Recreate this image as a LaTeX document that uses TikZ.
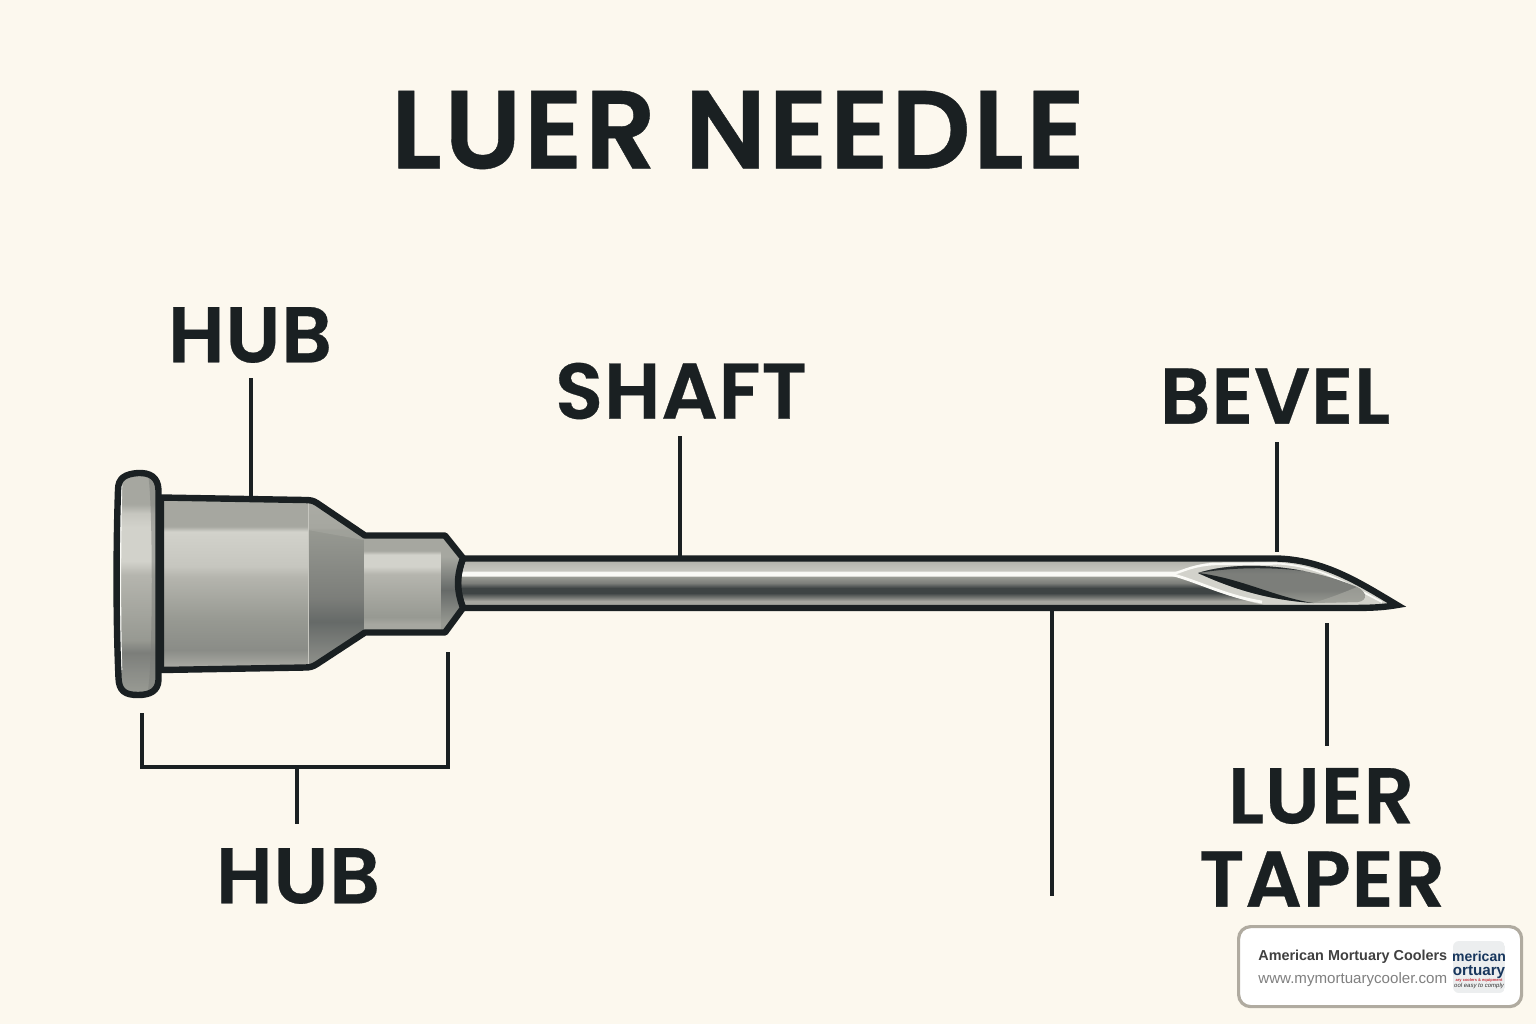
\documentclass[tikz,border=0pt]{standalone}
\usepackage{fontspec}
\setmainfont{Poppins SemiBold}
\newfontfamily\titlefont[LetterSpace=2,FakeBold=0.35]{Poppins SemiBold}
\newfontfamily\labelfont[LetterSpace=1,FakeBold=0.35]{Poppins SemiBold}
\newfontfamily\cardfont{Liberation Sans}
\definecolor{bgc}{HTML}{FCF8EE}
\definecolor{ink}{HTML}{1A2022}
\definecolor{gW}{HTML}{FAFAF6}
\definecolor{gL}{HTML}{D2D2CB}
\definecolor{gMa}{HTML}{C6C6BF}
\definecolor{gMb}{HTML}{B5B5AE}
\definecolor{gMc}{HTML}{A6A7A0}
\definecolor{gMd}{HTML}{979992}
\definecolor{gMe}{HTML}{8A8C87}
\definecolor{gDa}{HTML}{7C7E7A}
\definecolor{gDb}{HTML}{666A68}
\definecolor{gDc}{HTML}{3E4444}
\pgfdeclareverticalshading{bodyshade}{100bp}{color(0bp)=(gMb);color(25bp)=(gMb);color(26.4bp)=(gMc);color(30.8bp)=(gMe);color(39.5bp)=(gMd);color(52bp)=(gMb);color(55bp)=(gMa);color(65bp)=(gL);color(66.5bp)=(gMc);color(75bp)=(gMc);color(100bp)=(gMc)}
\pgfdeclareverticalshading{coneshade}{100bp}{color(0bp)=(gMe);color(28bp)=(gMe);color(39bp)=(gDb);color(46bp)=(gDa);color(65.6bp)=(gMd);color(66bp)=(gMc);color(74bp)=(gMb);color(100bp)=(gMb)}
\pgfdeclareverticalshading{neckshade}{100bp}{color(0bp)=(gMc);color(29.6bp)=(gMc);color(33.2bp)=(gMd);color(55bp)=(gMb);color(59bp)=(gL);color(65bp)=(gL);color(67bp)=(gMc);color(100bp)=(gMc)}
\pgfdeclareverticalshading{collarshade}{100bp}{color(0bp)=(gMd);color(30bp)=(gMd);color(47bp)=(gDb);color(64bp)=(gMc);color(100bp)=(gMc)}
\pgfdeclareverticalshading{flangeshade}{100bp}{color(0bp)=(gMd);color(26.6bp)=(gMd);color(31bp)=(gMe);color(35bp)=(gDa);color(37.7bp)=(gMd);color(52bp)=(gMb);color(55bp)=(gL);color(62.5bp)=(gL);color(65.5bp)=(gMa);color(67.5bp)=(gMc);color(100bp)=(gMc)}
\pgfdeclareverticalshading{shaftshade}{100bp}{color(0bp)=(gMc);color(25bp)=(gMc);color(32bp)=(gMc);color(35bp)=(gDa);color(40bp)=(gDc);color(45bp)=(gDc);color(50bp)=(gDa);color(56bp)=(gMd);color(57.5bp)=(gW);color(61bp)=(gW);color(62.5bp)=(gMa);color(71bp)=(gMb);color(75bp)=(gMd);color(100bp)=(gMd)}
\pgfdeclareverticalshading{windowshade}{100bp}{color(0bp)=(gMd);color(25bp)=(gMd);color(40bp)=(gDa);color(60bp)=(gDa);color(75bp)=(gDb);color(100bp)=(gDb)}
\newcommand{\hubpath}{(161,497.5) -- (305,500) to[out=0,in=147] (317,503) -- (365,535.5) -- (445,535.5) -- (463,558) to[out=250,in=110] (463,608) -- (445,632.5) -- (365,632.5) -- (317,664) to[out=213,in=0] (305,667.5) -- (161,670) -- cycle}
\newcommand{\needlepath}{(463,558.5) -- (1277,558.5) .. controls (1325,560) and (1360,583) .. (1397,605) .. controls (1380,608) and (1365,608) .. (1340,608) -- (463,608) to[out=110,in=250] (463,558.5) -- cycle}
\newcommand{\flangepath}{(118,490) .. controls (118,478) and (125,474) .. (138,473) .. controls (150,472.5) and (158,477) .. (158.5,490) -- (158.5,680) .. controls (158,691) and (150,695) .. (138,695) .. controls (125,695) and (119,691) .. (118.5,678) .. controls (116,620) and (116,550) .. (118,490) -- cycle}
\newcommand{\windowpath}{(1198,573) .. controls (1235,561) and (1300,563) .. (1357,587) .. controls (1367,592) and (1368,600) .. (1358,602) -- (1313,603) .. controls (1270,600) and (1235,590) .. (1198,573) -- cycle}
\tikzset{
  leader/.style={draw=ink,line width=1.9pt},
  outline/.style={draw=ink,line width=3.2pt,line join=round},
  biglabel/.style={font=\labelfont\fontsize{39.5}{39.5}\selectfont,text=ink,inner sep=0pt,anchor=center},
  card/.style={draw=cardedge,fill=white,line width=1.6pt,rounded corners=6pt},
}
\definecolor{cardedge}{HTML}{B0ABA0}
\definecolor{logobg}{HTML}{ECEEEF}
\definecolor{navy}{HTML}{17365D}
\definecolor{logored}{HTML}{C8303A}
\begin{document}
\begin{tikzpicture}[x=0.5pt,y=-0.5pt]
\useasboundingbox (0,0) rectangle (1536,1024);
\fill[bgc] (0,0) rectangle (1536,1024);

\node[text=ink,inner sep=0pt,font=\titlefont\fontsize{55.5}{55.5}\selectfont] (title) at (738,130) {LUER NEEDLE};

% labels
\node[biglabel] (hubA) at (250,335) {HUB};
\node[biglabel] (shaftL) at (681,391) {SHAFT};
\node[biglabel] (bevelL) at (1275,396) {BEVEL};
\node[biglabel] (hubB) at (298,876) {HUB};
\node[biglabel] (luerL) at (1321,796) {LUER};
\node[biglabel] (taperL) at (1322,879) {TAPER};

% connector ends
\coordinate (hubAa) at (251,378);
\coordinate (hubAb) at (251,498);
\coordinate (shaftAa) at (680,436);
\coordinate (shaftAb) at (680,558);
\coordinate (bevelAa) at (1277,442);
\coordinate (bevelAb) at (1277,552);
\coordinate (luerAa) at (1327,623);
\coordinate (luerAb) at (1327,746);
\coordinate (longAa) at (1052,608);
\coordinate (longAb) at (1052,896);
\coordinate (brA) at (142,713);
\coordinate (brB) at (142,767);
\coordinate (brC) at (448,767);
\coordinate (brD) at (448,652);
\coordinate (brM) at (297,767);
\coordinate (brN) at (297,824);

\draw[leader] (hubAa) -- (hubAb);
\draw[leader] (shaftAa) -- (shaftAb);
\draw[leader] (bevelAa) -- (bevelAb);
\draw[leader] (luerAa) -- (luerAb);
\draw[leader] (longAa) -- (longAb);
\draw[leader] (brA) -- (brB) -- (brC) -- (brD);
\draw[leader] (brM) -- (brN);

% needle shaft
\begin{scope}
\clip \needlepath;
\shade[shading=shaftshade] (460,558) rectangle (1410,608);
\fill[gMb] (1290,575) -- (1410,575) -- (1410,608) -- (1290,608) -- cycle;
\fill[gL] (1172,574.5) .. controls (1185,570) and (1195,565) .. (1210,562.5) -- (1277,561) .. controls (1325,563) and (1360,586) .. (1395,606) -- (1270,606) .. controls (1235,600) and (1205,585) .. (1172,574.5) -- cycle;
\end{scope}
\draw[draw=gW,line width=1.2pt] (1172,574.5) .. controls (1185,570) and (1195,565) .. (1215,564) -- (1277,563.5);
\draw[draw=gW,line width=1.4pt] (1172,574.5) .. controls (1200,582) and (1225,596) .. (1262,602);
\draw[draw=gW,line width=0.9pt] (1277,563.5) .. controls (1320,566) and (1345,583) .. (1382,602);
\shade[shading=windowshade] \windowpath;
\begin{scope}
\clip \windowpath;
\fill[gMc,opacity=.7] (1357,587) .. controls (1367,592) and (1368,600) .. (1358,602) -- (1313,603) .. controls (1330,598) and (1345,592) .. (1357,587) -- cycle;
\fill[ink] (1198,573) .. controls (1240,578) and (1275,597) .. (1313,603) .. controls (1270,601) and (1235,591) .. (1198,573) -- cycle;
\fill[ink,opacity=.85] (1198,573) .. controls (1235,561) and (1290,563) .. (1325,574) .. controls (1285,567) and (1240,566) .. (1198,573) -- cycle;
\end{scope}
\draw[outline,line join=miter,miter limit=20] \needlepath;

% hub
\begin{scope}
\clip \hubpath;
\shade[shading=bodyshade] (161,497) rectangle (308,670);
\shade[shading=coneshade] (308,497) rectangle (364,670);
\fill[gMc,opacity=.6] (308,495) -- (364,495) -- (364,540) -- (308,530) -- cycle;
\shade[shading=neckshade] (364,535) rectangle (441,633);
\shade[shading=collarshade] (441,535) rectangle (466,633);
\end{scope}
\draw[gMa,line width=.5pt] (308,502) -- (308,665);
\draw[outline] \hubpath;

% flange
\begin{scope}
\clip \flangepath;
\shade[shading=flangeshade] (110,470) rectangle (165,698);
\fill[gDa,opacity=.5] (148,474) .. controls (153,500) and (153,660) .. (148,690) -- (165,690) -- (165,474) -- cycle;
\draw[gW,line width=.8pt] (121.5,485) .. controls (120,550) and (120,620) .. (121.5,670);
\end{scope}
\draw[outline] \flangepath;

% card
\node[card,minimum width=141.5pt,minimum height=40pt,anchor=north west] (cardbox) at (1237,925) {};
\node[anchor=base west,inner sep=0pt,font=\cardfont\bfseries\fontsize{7.2}{7.2}\selectfont,text=black!75] (cardA) at (1258,960) {American Mortuary Coolers};
\node[anchor=base west,inner sep=0pt,font=\cardfont\fontsize{7.55}{7.55}\selectfont,text=black!50] (cardB) at (1258,983) {www.mymortuarycooler.com};
\begin{scope}
\clip[rounded corners=3pt] (1453,941) rectangle (1505,993);
\fill[logobg] (1453,941) rectangle (1505,993);
\node[font=\cardfont\bfseries\fontsize{7}{7}\selectfont,text=navy,inner sep=0pt,anchor=base] (logoA) at (1479,961) {merican};
\node[font=\cardfont\bfseries\fontsize{7.6}{7.6}\selectfont,text=navy,inner sep=0pt,anchor=base] (logoB) at (1479,975.5) {ortuary};
\node[font=\cardfont\bfseries\fontsize{2}{2}\selectfont,text=logored,inner sep=0pt,anchor=base] (logoC) at (1479,981.5) {ary coolers \& equipment};
\node[font=\cardfont\itshape\fontsize{3}{3}\selectfont,text=black!80,inner sep=0pt,anchor=base] (logoD) at (1479,987.5) {ool easy to comply};
\end{scope}
\end{tikzpicture}
\end{document}
